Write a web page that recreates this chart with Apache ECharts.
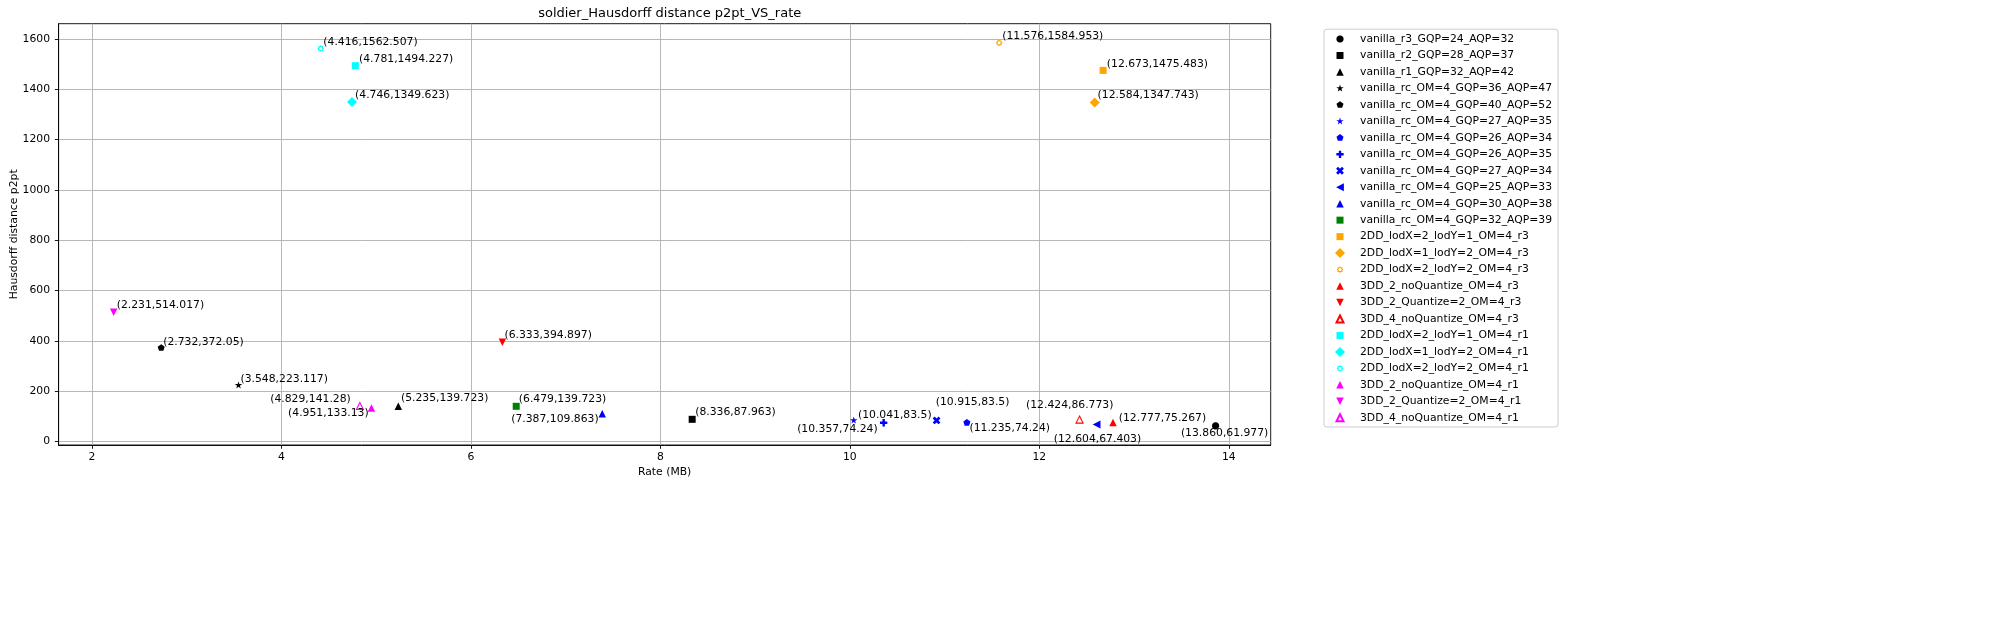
<!DOCTYPE html>
<html>
<head>
<meta charset="utf-8">
<title>soldier_Hausdorff distance p2pt_VS_rate</title>
<script src="https://cdn.jsdelivr.net/npm/echarts@6/dist/echarts.min.js"></script>
<style>
    html, body { margin: 0; padding: 0; background: #fff; }
    #chart { width: 2001px; height: 622px; }
</style>
</head>
<body>
<div id="chart"></div>
<script>
// Data
const seriesNames = [
    'vanilla_r3_GQP=24_AQP=32',
    'vanilla_r2_GQP=28_AQP=37',
    'vanilla_r1_GQP=32_AQP=42',
    'vanilla_rc_OM=4_GQP=36_AQP=47',
    'vanilla_rc_OM=4_GQP=40_AQP=52',
    'vanilla_rc_OM=4_GQP=27_AQP=35',
    'vanilla_rc_OM=4_GQP=26_AQP=34',
    'vanilla_rc_OM=4_GQP=26_AQP=35',
    'vanilla_rc_OM=4_GQP=27_AQP=34',
    'vanilla_rc_OM=4_GQP=25_AQP=33',
    'vanilla_rc_OM=4_GQP=30_AQP=38',
    'vanilla_rc_OM=4_GQP=32_AQP=39',
    '2DD_lodX=2_lodY=1_OM=4_r3',
    '2DD_lodX=1_lodY=2_OM=4_r3',
    '2DD_lodX=2_lodY=2_OM=4_r3',
    '3DD_2_noQuantize_OM=4_r3',
    '3DD_2_Quantize=2_OM=4_r3',
    '3DD_4_noQuantize_OM=4_r3',
    '2DD_lodX=2_lodY=1_OM=4_r1',
    '2DD_lodX=1_lodY=2_OM=4_r1',
    '2DD_lodX=2_lodY=2_OM=4_r1',
    '3DD_2_noQuantize_OM=4_r1',
    '3DD_2_Quantize=2_OM=4_r1',
    '3DD_4_noQuantize_OM=4_r1'
];
const rateMB = [
    13.860, 8.336, 5.235, 3.548, 2.732,
    10.041, 11.235, 10.357, 10.915, 12.604, 7.387, 6.479,
    12.673, 12.584, 11.576,
    12.777, 6.333, 12.424,
    4.781, 4.746, 4.416,
    4.951, 2.231, 4.829
];
const hausdorffP2pt = [
    61.977, 87.963, 139.723, 223.117, 372.05,
    83.5, 74.24, 74.24, 83.5, 67.403, 109.863, 139.723,
    1475.483, 1347.743, 1584.953,
    75.267, 394.897, 86.773,
    1494.227, 1349.623, 1562.507,
    133.13, 514.017, 141.28
];
const xTicks = [2, 4, 6, 8, 10, 12, 14];
const yTicks = [0, 200, 400, 600, 800, 1000, 1200, 1400, 1600];

// Styles
const FONT = 'DejaVu Sans';
const FS = 10.8;
const BOX = 10; // every marker is drawn inside a 10px box, shape scaled inside it

function radial(n, radii, start, reverse) {
    const pts = [];
    for (let k = 0; k < n; k++) {
        const a = (start + (reverse ? -1 : 1) * k * 360 / n) * Math.PI / 180;
        const r = radii[k % radii.length];
        pts.push([r * Math.cos(a), r * Math.sin(a)]);
    }
    return pts;
}
const unitShapes = {
    circle: [radial(32, [1], 0)],
    square: [[[-1, -1], [1, -1], [1, 1], [-1, 1]]],
    triUp: [[[0, -1], [1, 1], [-1, 1]]],
    triDown: [[[-1, -1], [1, -1], [0, 1]]],
    triLeft: [[[-1, 0], [1, -1], [1, 1]]],
    diamond: [[[0, -1], [1, 0], [0, 1], [-1, 0]]],
    star: [radial(10, [1, 0.382], -90)],
    pentagon: [radial(5, [1], -90)],
    plus: [[[-1/3, -1], [1/3, -1], [1/3, -1/3], [1, -1/3], [1, 1/3], [1/3, 1/3], [1/3, 1],
            [-1/3, 1], [-1/3, 1/3], [-1, 1/3], [-1, -1/3], [-1/3, -1/3]]],
    xfill: [[[-0.5, -1], [0, -0.5], [0.5, -1], [1, -0.5], [0.5, 0], [1, 0.5], [0.5, 1],
             [0, 0.5], [-0.5, 1], [-1, 0.5], [-0.5, 0], [-1, -0.5]]],
    gear: [radial(16, [1, 0.74], -90), radial(24, [0.45], -90, true)]
};
// marker path with invisible frame corners so its size inside the box is kept
function markerPath(shape, size) {
    const s = size / BOX * 50;
    let d = 'M0 0M100 100';
    unitShapes[shape].forEach(poly => {
        d += 'M' + poly.map(p => (50 + p[0] * s).toFixed(2) + ' ' + (50 + p[1] * s).toFixed(2)).join('L') + 'Z';
    });
    return 'path://' + d;
}

// [shape, color, size px, hollow]
const markers = [
    ['circle', '#000000', 7.2], ['square', '#000000', 7], ['triUp', '#000000', 7.5],
    ['star', '#000000', 7.8], ['pentagon', '#000000', 7.4],
    ['star', '#0000ff', 7.8], ['pentagon', '#0000ff', 7.4], ['plus', '#0000ff', 7.3],
    ['xfill', '#0000ff', 7.8], ['triLeft', '#0000ff', 7.8], ['triUp', '#0000ff', 7.5],
    ['square', '#008000', 7],
    ['square', '#ffa500', 7], ['diamond', '#ffa500', 10], ['gear', '#ffa500', 6.8],
    ['triUp', '#ff0000', 7.5], ['triDown', '#ff0000', 7.5], ['triUp', '#ff0000', 7, true],
    ['square', '#00ffff', 7], ['diamond', '#00ffff', 10], ['gear', '#00ffff', 6.8],
    ['triUp', '#ff00ff', 7.5], ['triDown', '#ff00ff', 7.5], ['triUp', '#ff00ff', 7, true]
];

// annotation placement: [align, dx, dy] from the marker centre
const labelPlacement = [
    ['center', 9, 7], ['left', 3, -7], ['left', 2.6, -7.8], ['left', 2, -6.5], ['left', 2, -6],
    ['left', 4.2, -5], ['left', 2.6, 5], ['right', -6, 6.8], ['left', -0.8, -18.3],
    ['center', 0.9, 14.4], ['right', -3.6, 5.2], ['left', 2.6, -7.3],
    ['left', 3.7, -6.5], ['left', 2.9, -7], ['left', 3, -7],
    ['left', 5.8, -4.5], ['left', 2.1, -6.5], ['center', -9.8, -14.3],
    ['left', 3.7, -6.5], ['left', 3.1, -7.3], ['left', 2.6, -6.7],
    ['right', -2.8, 5.5], ['left', 3, -7], ['right', -9.1, -6.5]
];

const series = seriesNames.map((name, i) => {
    const m = markers[i];
    const lp = labelPlacement[i];
    return {
        name: name,
        type: 'scatter',
        data: [[rateMB[i], hausdorffP2pt[i]]],
        symbol: markerPath(m[0], m[2]),
        symbolSize: BOX,
        symbolKeepAspect: true,
        itemStyle: m[3]
            ? { color: '#ffffff', borderColor: m[1], borderWidth: 1.1, opacity: 1 }
            : { color: m[1], borderWidth: 0, opacity: 1 },
        label: {
            show: true,
            position: 'inside',
            align: lp[0],
            verticalAlign: 'middle',
            offset: [lp[1], lp[2]],
            color: '#000000',
            fontFamily: FONT,
            fontSize: FS,
            formatter: function (p) {
                return '(' + p.value[0].toFixed(3) + ',' + p.value[1] + ')';
            }
        },
        emphasis: { disabled: true },
        z: 3
    };
});

const chart = echarts.init(document.getElementById('chart'), null, { renderer: 'canvas' });

const axisCommon = {
    type: 'value',
    axisLine: { show: true, onZero: false, lineStyle: { color: '#000000', width: 0.9 } },
    axisTick: { show: true, inside: false, length: 3.8, lineStyle: { color: '#000000', width: 0.9 } },
    splitLine: { show: true, lineStyle: { color: '#b0b0b0', width: 0.9 } },
    nameLocation: 'middle',
    nameMoveOverlap: false,
    nameTextStyle: { fontFamily: FONT, fontSize: FS, color: '#000000' }
};

const option = {
    backgroundColor: '#ffffff',
    animation: false,
    title: {
        text: 'soldier_Hausdorff distance p2pt_VS_rate',
        left: 664.7,
        textAlign: 'center',
        top: 2.5,
        textStyle: { fontFamily: FONT, fontSize: 13, fontWeight: 'normal', color: '#000000' }
    },
    legend: {
        orient: 'vertical',
        left: 1324,
        top: 29.2,
        padding: [3.8, 6, 3.2, 10],
        itemWidth: 30,
        itemHeight: BOX,
        itemGap: 4.47,
        symbolKeepAspect: true,
        selectedMode: false,
        backgroundColor: 'rgba(255,255,255,0.8)',
        borderColor: '#cccccc',
        borderWidth: 1,
        borderRadius: 3,
        textStyle: { fontFamily: FONT, fontSize: FS, lineHeight: 12, color: '#000000' },
        data: seriesNames
    },
    grid: {
        left: 58.6,
        top: 23.7,
        right: 2001 - 1270.7,
        bottom: 622 - 445,
        containLabel: false,
        outerBoundsMode: 'none',
        show: true,
        borderColor: '#000000',
        borderWidth: 0.9,
        backgroundColor: 'transparent'
    },
    xAxis: Object.assign({}, axisCommon, {
        min: 1.6495,
        max: 14.4415,
        splitNumber: 6,
        name: 'Rate (MB)',
        nameGap: 21.5,
        axisTick: Object.assign({}, axisCommon.axisTick, { customValues: xTicks }),
        axisLabel: {
            customValues: xTicks,
            margin: 7,
            fontFamily: FONT, fontSize: FS, color: '#000000',
            formatter: v => String(v)
        }
    }),
    yAxis: Object.assign({}, axisCommon, {
        min: -14.17,
        max: 1661.1,
        splitNumber: 8,
        name: 'Hausdorff distance p2pt',
        nameGap: 38.5,
        axisTick: Object.assign({}, axisCommon.axisTick, { customValues: yTicks }),
        axisLabel: {
            customValues: yTicks,
            margin: 8.5,
            fontFamily: FONT, fontSize: FS, color: '#000000',
            formatter: v => String(v)
        }
    }),
    series: series
};

chart.setOption(option);
</script>
</body>
</html>
